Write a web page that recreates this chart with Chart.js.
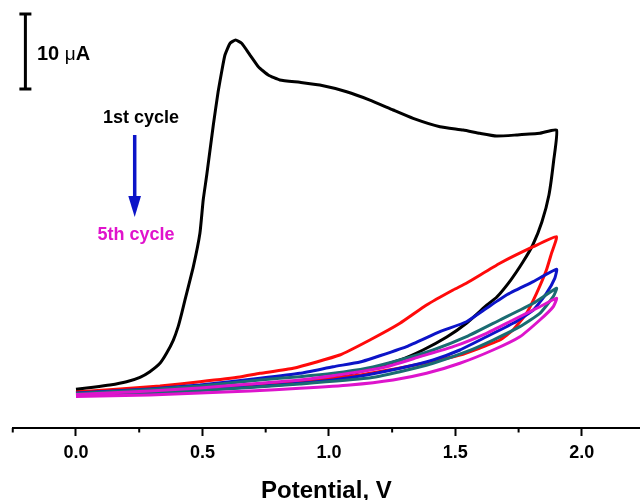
<!DOCTYPE html>
<html>
<head>
<meta charset="utf-8">
<script src="https://cdn.jsdelivr.net/npm/chart.js@4.4.0/dist/chart.umd.min.js"></script>
<style>
html,body{margin:0;padding:0;background:#fff;overflow:hidden;}
#wrap{width:640px;height:500px;}
</style>
</head>
<body>
<div id="wrap"><canvas id="c" width="640" height="500"></canvas></div>
<script>
// Potential (V) and current (µA, arbitrary offset) for each CV cycle
const cycle1V = [0,0.068,0.134,0.200,0.253,0.292,0.332,0.358,0.385,0.404,0.418,0.431,0.464,0.490,0.503,0.517,0.543,0.562,0.576,0.589,0.609,0.631,0.655,0.688,0.721,0.760,0.806,0.885,0.964,1.070,1.162,1.254,1.333,1.439,1.531,1.597,1.663,1.742,1.834,1.900,1.889,1.870,1.842,1.806,1.767,1.719,1.664,1.625,1.545,1.466,1.372,1.281,1.150,1.016,0.885,0.688,0.490,0.292,0.095,0];
const cycle1I = [0.36,0.63,0.93,1.37,1.96,2.71,3.83,5.16,6.93,8.71,10.49,12.27,16.71,21.16,25.6,28.93,35.6,40.04,42.71,44.93,46.49,46.93,46.49,44.93,43.37,42.27,41.6,41.29,40.93,40.04,38.93,37.6,36.49,35.37,34.93,34.49,34.13,34.27,34.49,34.93,30.93,26.27,22.67,19.6,17.33,14.93,12.67,11.6,9.2,7.33,5.6,4.27,2.93,2.0,1.33,0.87,0.53,0.27,0.07,0];

const cycle2V = [0,0.174,0.332,0.490,0.648,0.727,0.859,1.043,1.162,1.281,1.386,1.491,1.545,1.676,1.808,1.900,1.880,1.860,1.821,1.781,1.728,1.676,1.597,1.518,1.399,1.281,1.123,1.004,0.885,0.727,0.490,0.292,0.095,0];
const cycle2I = [0,0.4,0.8,1.37,2.0,2.49,3.16,4.93,6.93,9.16,11.6,13.6,14.53,17.16,19.37,20.71,18.49,16.27,13.16,10.49,8.27,6.93,5.87,4.93,4.0,3.2,2.27,1.8,1.4,1.0,0.53,0.13,-0.13,-0.27];

const cycle3V = [0,0.292,0.490,0.727,0.885,1.017,1.123,1.175,1.307,1.439,1.544,1.623,1.702,1.808,1.900,1.893,1.860,1.808,1.728,1.623,1.518,1.412,1.281,1.149,1.017,0.885,0.688,0.490,0.292,0.095,0];
const cycle3I = [-0.13,0.4,0.93,1.83,2.49,3.37,4.0,4.53,6.04,8.04,9.37,11.16,12.93,14.71,16.36,15.16,13.16,10.93,9.16,7.37,5.6,4.27,3.16,2.27,1.6,1.16,0.67,0.27,-0.07,-0.33,-0.4];

const cycle4V = [0,0.292,0.490,0.727,0.885,1.017,1.149,1.281,1.412,1.544,1.676,1.808,1.900,1.887,1.834,1.755,1.649,1.544,1.412,1.281,1.149,0.885,0.688,0.490,0.292,0.095,0];
const cycle4I = [-0.2,0.33,0.8,1.6,2.04,2.49,3.16,4.27,5.6,7.37,9.6,11.83,13.83,12.71,10.49,8.71,6.93,5.37,3.83,2.71,1.83,1.07,0.6,0.2,-0.13,-0.4,-0.47];

const cycle5V = [0,0.292,0.490,0.688,0.885,1.083,1.228,1.360,1.491,1.623,1.728,1.834,1.900,1.887,1.834,1.755,1.649,1.518,1.386,1.254,1.083,0.885,0.688,0.490,0.292,0.095,0];
const cycle5I = [-0.33,0.13,0.53,1.07,1.6,2.49,3.37,4.71,6.04,7.83,9.6,11.37,12.49,11.37,9.6,7.37,5.6,3.83,2.49,1.6,0.93,0.49,0.13,-0.13,-0.4,-0.53,-0.6];

const cycleColors = ['#000000','#ff0a0a','#0c14c8','#1a6c72','#dd14cc'];
const xTickLabels = ['0.0','0.5','1.0','1.5','2.0'];
const scaleBarI = [40.4, 50.4];   // 10 µA scale bar

const allV = [cycle1V,cycle2V,cycle3V,cycle4V,cycle5V];
const allI = [cycle1I,cycle2I,cycle3I,cycle4I,cycle5I];

const FONT = '"Liberation Sans", Arial, Helvetica, sans-serif';

const isMajor = v => Math.abs(v*2 - Math.round(v*2)) < 1e-6;

const datasets = allV.map((vs, k) => ({
  label: 'Cycle ' + (k+1),
  data: vs.map((v, i) => ({x: v, y: allI[k][i]})),
  borderColor: cycleColors[k],
  borderWidth: 3,
  showLine: true,
  pointRadius: 0,
  tension: 0.15,
  fill: false,
  order: 5 - k
}));

const decor = {
  id: 'decor',
  afterDraw(chart) {
    const ctx = chart.ctx;
    const xs = chart.scales.x, ys = chart.scales.y;
    ctx.save();
    // minor ticks
    ctx.strokeStyle = '#000';
    ctx.lineWidth = 2;
    xs.ticks.forEach(t => {
      if (!isMajor(t.value)) {
        const px = xs.getPixelForValue(t.value);
        ctx.beginPath();
        ctx.moveTo(px, xs.top);
        ctx.lineTo(px, xs.top + 4.5);
        ctx.stroke();
      }
    });
    // scale bar
    const bx = xs.getPixelForValue(-0.2);
    const by0 = ys.getPixelForValue(scaleBarI[0]);
    const by1 = ys.getPixelForValue(scaleBarI[1]);
    ctx.lineWidth = 3;
    ctx.beginPath();
    ctx.moveTo(bx, by0); ctx.lineTo(bx, by1);
    ctx.moveTo(bx-6, by0); ctx.lineTo(bx+6, by0);
    ctx.moveTo(bx-6, by1); ctx.lineTo(bx+6, by1);
    ctx.stroke();
    // scale bar label: "10 μA"
    ctx.fillStyle = '#000';
    ctx.textBaseline = 'alphabetic';
    ctx.textAlign = 'left';
    let tx = 37;
    ctx.font = 'bold 20px ' + FONT;
    ctx.fillText('10 ', tx, 60);
    tx += ctx.measureText('10 ').width;
    ctx.font = '19px ' + FONT;
    ctx.fillText('μ', tx, 60);
    tx += ctx.measureText('μ').width;
    ctx.font = 'bold 20px ' + FONT;
    ctx.fillText('A', tx, 60);
    // cycle labels
    ctx.textAlign = 'center';
    ctx.font = 'bold 18px ' + FONT;
    ctx.fillText('1st cycle', 141, 123);
    ctx.fillStyle = '#e013cc';
    ctx.fillText('5th cycle', 136, 240);
    // arrow
    ctx.strokeStyle = '#0c14c8';
    ctx.fillStyle = '#0c14c8';
    ctx.lineWidth = 3.5;
    ctx.beginPath();
    ctx.moveTo(134.7, 135); ctx.lineTo(134.7, 200);
    ctx.stroke();
    ctx.beginPath();
    ctx.moveTo(128.3, 196); ctx.lineTo(141, 196); ctx.lineTo(134.7, 217);
    ctx.closePath();
    ctx.fill();
    ctx.restore();
  }
};

new Chart(document.getElementById('c'), {
  type: 'scatter',
  data: { datasets },
  options: {
    responsive: false,
    animation: false,
    events: [],
    layout: { padding: { left: 12.75, right: 0, top: 0, bottom: 0 } },
    plugins: { legend: { display: false }, tooltip: { enabled: false } },
    scales: {
      x: {
        type: 'linear',
        min: -0.25, max: 2.23,
        border: { display: true, color: '#000', width: 2 },
        grid: {
          display: true, drawOnChartArea: false, drawTicks: true,
          tickLength: 8, tickWidth: 2,
          tickColor: c => (c.tick && isMajor(c.tick.value)) ? '#000' : 'rgba(0,0,0,0)'
        },
        ticks: {
          stepSize: 0.25, includeBounds: false, autoSkip: false, maxRotation: 0, minRotation: 0,
          padding: 6, color: '#000',
          font: { family: FONT, weight: 'bold', size: 18 },
          callback: v => isMajor(v) ? xTickLabels[Math.round(v*2)] : ''
        },
        title: {
          display: true, text: 'Potential, V', color: '#000',
          font: { family: FONT, weight: 'bold', size: 24, lineHeight: 0.7 },
          padding: { top: 13.6, bottom: 0 }
        }
      },
      y: {
        type: 'linear', display: false,
        min: -4.8, max: 52.2667
      }
    }
  },
  plugins: [decor]
});
</script>
</body>
</html>
